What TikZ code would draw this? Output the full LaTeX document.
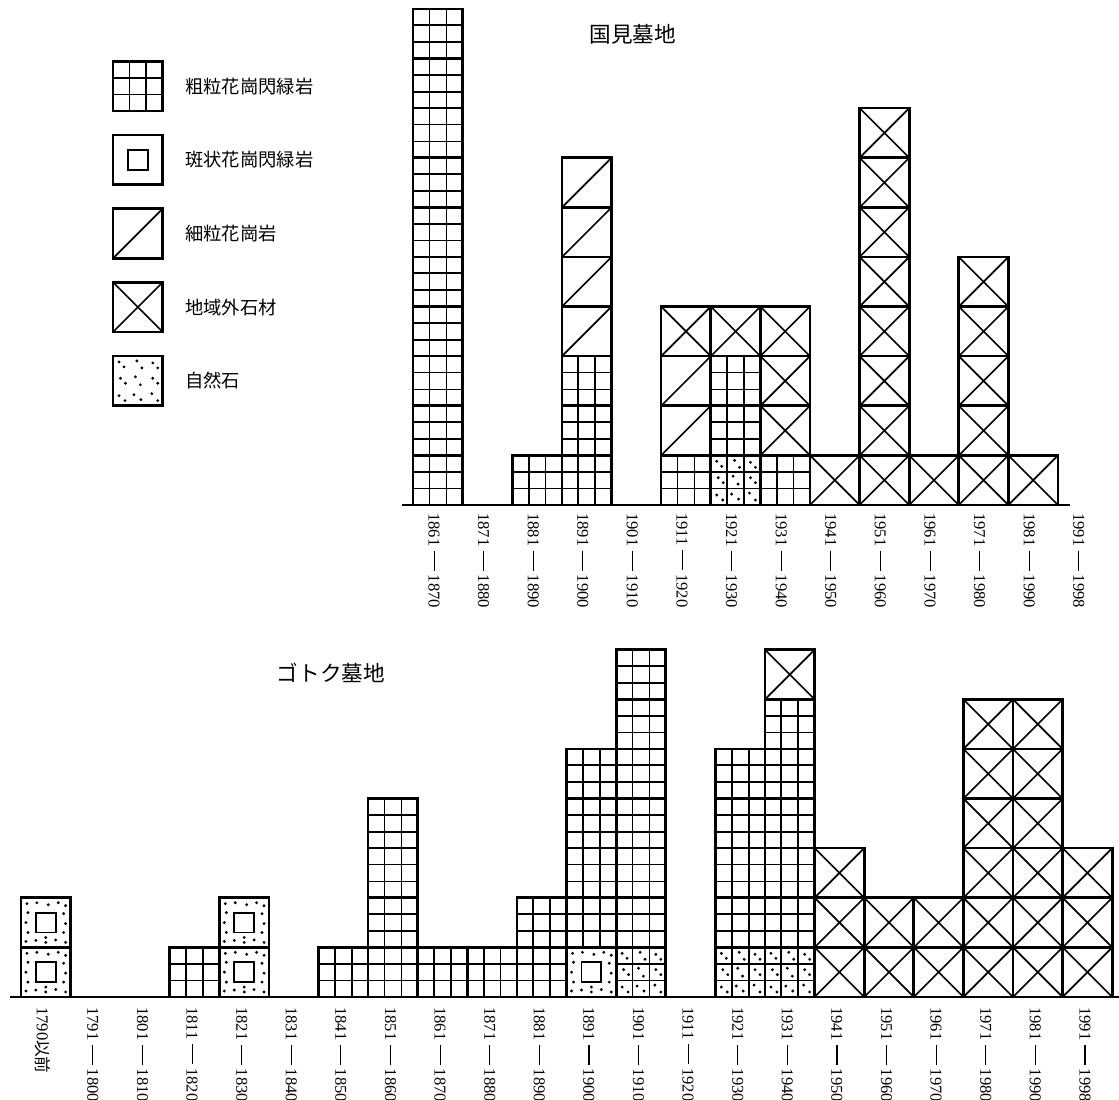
\documentclass[tikz,border=0pt]{standalone}
\usepackage{fontspec}
\setmainfont{Liberation Serif}
\newfontfamily\jpfont{Noto Sans CJK JP}

% dot positions inside one unit cell
\newcommand{\dotsall}{0.12/0.88,0.22/0.78,0.48/0.9,0.58/0.76,0.8/0.86,0.9/0.76,0.15/0.55,0.25/0.45,0.45/0.58,0.55/0.42,0.8/0.55,0.9/0.45,0.12/0.2,0.24/0.1,0.42/0.22,0.56/0.12,0.78/0.24,0.9/0.1}
\newcommand{\dotsring}{0.12/0.88,0.32/0.9,0.55/0.86,0.75/0.9,0.9/0.84,0.14/0.7,0.86/0.68,0.1/0.5,0.9/0.48,0.14/0.3,0.86/0.3,0.1/0.12,0.3/0.14,0.5/0.1,0.7/0.15,0.9/0.1,0.5/0.2}
\newcommand{\yrdash}{\hspace{2.4pt}\rule[0.3em]{11.5pt}{0.6pt}\hspace{2.4pt}}

% one cell of each stone, lower left corner at (#1,#2)
\newcommand{\stonebox}[2]{\draw[line width=1.5pt] (#1,#2) rectangle ++(1,1);}
\newcommand{\cellE}[2]{}
\newcommand{\cellG}[2]{%
  \draw[line width=1pt] (#1+0.33,#2) -- ++(0,1) (#1+0.67,#2) -- ++(0,1)
    (#1,#2+0.33) -- ++(1,0) (#1,#2+0.67) -- ++(1,0);
  \stonebox{#1}{#2}}
\newcommand{\cellP}[2]{%
  \draw[line width=1.1pt] (#1+0.3,#2+0.3) rectangle ++(0.4,0.4);
  \stonebox{#1}{#2}}
\newcommand{\cellF}[2]{%
  \draw[line width=0.95pt] (#1,#2) -- ++(1,1);
  \stonebox{#1}{#2}}
\newcommand{\cellX}[2]{%
  \draw[line width=0.95pt] (#1,#2) -- ++(1,1) (#1,#2+1) -- ++(1,-1);
  \stonebox{#1}{#2}}
\newcommand{\cellN}[2]{%
  \foreach \p/\q in \dotsall {\fill (#1+\p,#2+\q) circle (0.032);}
  \stonebox{#1}{#2}}
\newcommand{\cellGN}[2]{%
  \foreach \p/\q in \dotsall {\fill (#1+\p,#2+\q) circle (0.032);}
  \cellG{#1}{#2}}
\newcommand{\cellPN}[2]{%
  \foreach \p/\q in \dotsring {\fill (#1+\p,#2+\q) circle (0.032);}
  \cellP{#1}{#2}}

\begin{document}
\begin{tikzpicture}[yearlbl/.style={rotate=-90, anchor=west, inner sep=0pt, font={\fontsize{9.5}{10}\selectfont}},
    ttl/.style={font={\jpfont\fontsize{12.4}{14}\selectfont}}]
  \useasboundingbox (0,0) rectangle (22.56,22.177);
  % legend
  \foreach \c/\a [count=\n] in {G/粗粒花崗閃緑岩,P/斑状花崗閃緑岩,F/細粒花崗岩,X/地域外石材,N/自然石} {
    \pgfmathsetmacro{\yc}{20.44-(\n-1)*1.485}
    \csname cell\c\endcsname{2.28}{\yc-0.5}
    \node[anchor=west, inner sep=0pt, font={\jpfont\fontsize{10.5}{12}\selectfont}] (leg-\n) at (3.73,\yc) {\a};
  }
  % Kunimi graveyard
  \node[ttl] (kunimi) at (12.76,21.49) {国見墓地};
  \foreach \col [count=\n] in {{G,G,G,G,G,G,G,G,G,G},{E},{G},{G,G,G,F,F,F,F},{E},{G,F,F,X},{GN,G,G,X},{G,X,X,X},{X},{X,X,X,X,X,X,X,X},{X},{X,X,X,X,X},{X},{E}} {
    \foreach \c [count=\m] in \col {
      \pgfmathsetmacro{\xa}{8.33+\n-1}
      \pgfmathsetmacro{\ya}{11.996+\m-1}
      \csname cell\c\endcsname{\xa}{\ya}
    }
  }
  \coordinate (kbase-l) at (8.1,11.996);
  \coordinate (kbase-r) at (21.57,11.996);
  \draw[line width=1.5pt] (kbase-l) -- (kbase-r);
  % column labels
  \foreach \a/\b [count=\n] in {1861/1870,1871/1880,1881/1890,1891/1900,1901/1910,1911/1920,1921/1930,1931/1940,1941/1950,1951/1960,1961/1970,1971/1980,1981/1990,1991/1998} {
    \node[yearlbl] (kl-\n) at (8.33+\n-0.58,11.836) {\a\yrdash\b};
  }
  % Gotoku graveyard
  \node[ttl] (gotoku) at (6.67,8.61) {ゴトク墓地};
  \foreach \col [count=\n] in {{PN,PN},{E},{E},{G},{PN,PN},{E},{G},{G,G,G,G},{G},{G},{G,G},{PN,G,G,G,G},{GN,G,G,G,G,G,G},{E},{GN,G,G,G,G},{GN,G,G,G,G,G,X},{X,X,X},{X,X},{X,X},{X,X,X,X,X,X},{X,X,X,X,X,X},{X,X,X}} {
    \foreach \c [count=\m] in \col {
      \pgfmathsetmacro{\xa}{0.423+\n-1}
      \pgfmathsetmacro{\ya}{2.077+\m-1}
      \csname cell\c\endcsname{\xa}{\ya}
    }
  }
  \coordinate (gbase-l) at (0.2,2.077);
  \coordinate (gbase-r) at (22.56,2.077);
  \draw[line width=1.5pt] (gbase-l) -- (gbase-r);
  % column labels
  \node[yearlbl] (gl-0) at (0.873,1.877) {1790{\jpfont 以前}};
  \foreach \a/\b [count=\n] in {1791/1800,1801/1810,1811/1820,1821/1830,1831/1840,1841/1850,1851/1860,1861/1870,1871/1880,1881/1890,1891/1900,1901/1910,1911/1920,1921/1930,1931/1940,1941/1950,1951/1960,1961/1970,1971/1980,1981/1990,1991/1998} {
    \node[yearlbl] (gl-\n) at (0.423+\n+0.45,1.877) {\a\yrdash\b};
  }
\end{tikzpicture}
\end{document}
